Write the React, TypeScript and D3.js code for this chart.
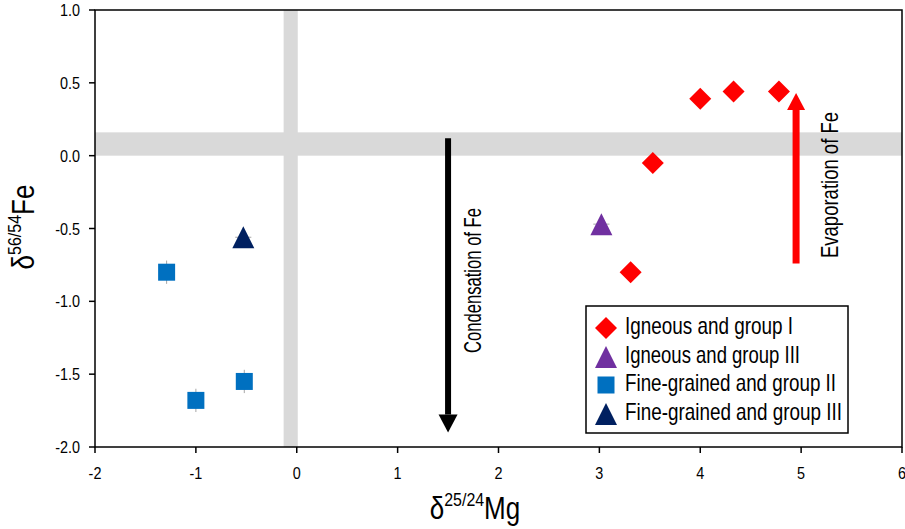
import React from "react";
import * as d3 from "d3";

const FONT = "'Liberation Sans', Arial, sans-serif";

// Data
const seriesNames = [
  "Igneous and group I",
  "Igneous and group III",
  "Fine-grained and group II",
  "Fine-grained and group III",
];
const seriesColors = ["#FF0000", "#7030A0", "#0070C0", "#002060"];
const seriesShapes = ["diamond", "triangle", "square", "triangle"];

const igneousI_mg = [4.0, 4.33, 4.78, 3.53, 3.31];
const igneousI_fe = [0.39, 0.44, 0.44, -0.05, -0.80];
const igneousIII_mg = [3.02];
const igneousIII_fe = [-0.47];
const fineII_mg = [-1.29, -1.0, -0.52];
const fineII_fe = [-0.80, -1.68, -1.55];
const fineIII_mg = [-0.53];
const fineIII_fe = [-0.56];
const errMg = [0.08, 0.08, 0.02, 0.08];
const errFe = [0.02, 0.02, 0.08, 0.02];

const xTicks = [-2, -1, 0, 1, 2, 3, 4, 5, 6];
const yTicks = [1.0, 0.5, 0.0, -0.5, -1.0, -1.5, -2.0];

const bandFe = [0.0, 0.16];
const bandMg = [-0.13, 0.01];
const condensationArrow = { mg: 1.5, from: 0.12, to: -1.9, label: "Condensation of Fe" };
const evaporationArrow = { mg: 4.95, from: -0.74, to: 0.43, label: "Evaporation of Fe" };

const W = 905, H = 529;
const x = d3.scaleLinear().domain([-2, 6]).range([95, 902]);
const y = d3.scaleLinear().domain([-2, 1]).range([447, 10]);

function marker(shape: string, cx: number, cy: number, color: string, key?: string) {
  if (shape === "diamond") {
    const r = 11;
    return <path key={key} d={`M${cx},${cy - r}L${cx + r},${cy}L${cx},${cy + r}L${cx - r},${cy}Z`} fill={color} />;
  }
  if (shape === "square") {
    const s = 8.5;
    return <rect key={key} x={cx - s} y={cy - s} width={2 * s} height={2 * s} fill={color} />;
  }
  const h = 22, w = 22;
  return <path key={key} d={`M${cx},${cy - h / 2}L${cx + w / 2},${cy + h / 2}L${cx - w / 2},${cy + h / 2}Z`} fill={color} />;
}

const series = [
  { mg: igneousI_mg, fe: igneousI_fe },
  { mg: igneousIII_mg, fe: igneousIII_fe },
  { mg: fineII_mg, fe: fineII_fe },
  { mg: fineIII_mg, fe: fineIII_fe },
];

function Arrow({ mg, from, to, color, shaft, headW, headH }: any) {
  const cx = x(mg);
  const y0 = y(from), y1 = y(to);
  const dir = y1 > y0 ? 1 : -1;
  const yBase = y1 - dir * headH;
  return (
    <g>
      <line x1={cx} x2={cx} y1={y0} y2={yBase} stroke={color} strokeWidth={shaft} />
      <path d={`M${cx - headW / 2},${yBase}L${cx + headW / 2},${yBase}L${cx},${y1}Z`} fill={color} />
    </g>
  );
}

const legendWidths = [168, 175, 211, 217];

export default function App() {
  const legendRows = [328, 357, 385, 414];
  return (
    <svg width={W} height={H} style={{ position: "absolute", left: 0, top: 0, fontFamily: FONT }}>
      <rect x={0} y={0} width={W} height={H} fill="#fff" />
      {/* bands */}
      <rect x={x(-2)} width={x(6) - x(-2)} y={y(bandFe[1])} height={y(bandFe[0]) - y(bandFe[1])} fill="#D9D9D9" />
      <rect x={x(bandMg[0])} width={x(bandMg[1]) - x(bandMg[0])} y={y(1)} height={y(-2) - y(1)} fill="#D9D9D9" />
      {/* frame */}
      <rect x={x(-2)} y={y(1)} width={x(6) - x(-2)} height={y(-2) - y(1)} fill="none" stroke="#000" strokeWidth={1.5} />
      {/* x ticks */}
      {xTicks.map((t) => (
        <g key={"x" + t}>
          <line x1={x(t)} x2={x(t)} y1={y(-2)} y2={y(-2) + 6} stroke="#000" strokeWidth={1.5} />
          <g transform={`translate(${x(t)},479) scale(0.9,1)`}>
            <text x={0} y={0} textAnchor="middle" fontSize={16} fill="#000">{t}</text>
          </g>
        </g>
      ))}
      {yTicks.map((t) => (
        <g key={"y" + t}>
          <line x1={x(-2) - 6} x2={x(-2)} y1={y(t)} y2={y(t)} stroke="#000" strokeWidth={1.5} />
          <g transform={`translate(80,${y(t) + 6}) scale(0.9,1)`}>
            <text x={0} y={0} textAnchor="end" fontSize={16} fill="#000">{t.toFixed(1)}</text>
          </g>
        </g>
      ))}
      {/* axis titles */}
      <g transform="translate(475,519) scale(0.84,1)">
        <text x={0} y={0} textAnchor="middle" fontSize={31} fill="#000">
          δ<tspan fontSize={19} dy={-13}>25/24</tspan><tspan dy={13}>Mg</tspan>
        </text>
      </g>
      <g transform="translate(34,227) rotate(-90) scale(0.84,1)">
        <text x={0} y={0} textAnchor="middle" fontSize={31} fill="#000">
          δ<tspan fontSize={19} dy={-13}>56/54</tspan><tspan dy={13}>Fe</tspan>
        </text>
      </g>
      {/* arrows */}
      <Arrow mg={condensationArrow.mg} from={condensationArrow.from} to={condensationArrow.to} color="#000" shaft={6} headW={19} headH={18} />
      <Arrow mg={evaporationArrow.mg} from={evaporationArrow.from} to={evaporationArrow.to} color="#FF0000" shaft={7} headW={18} headH={17} />
      <text transform={`translate(481,280.5) rotate(-90)`} textAnchor="middle" fontSize={24} fill="#000"
        textLength={145} lengthAdjust="spacingAndGlyphs">{condensationArrow.label}</text>
      <text transform={`translate(838,185) rotate(-90)`} textAnchor="middle" fontSize={24} fill="#000"
        textLength={146} lengthAdjust="spacingAndGlyphs">{evaporationArrow.label}</text>
      {/* error bars */}
      {series.map((s, si) =>
        s.mg.map((m, i) => (
          <g key={`e${si}-${i}`} stroke="#A6A6A6" strokeWidth={1}>
            <line x1={x(m - errMg[si])} x2={x(m + errMg[si])} y1={y(s.fe[i])} y2={y(s.fe[i])} />
            <line x1={x(m)} x2={x(m)} y1={y(s.fe[i] - errFe[si])} y2={y(s.fe[i] + errFe[si])} />
          </g>
        ))
      )}
      {/* points */}
      {series.map((s, si) =>
        s.mg.map((m, i) => marker(seriesShapes[si], x(m), y(s.fe[i]), seriesColors[si], `p${si}-${i}`))
      )}
      {/* legend */}
      <rect x={586} y={306} width={262} height={127} fill="#fff" stroke="#000" strokeWidth={1.5} />
      {seriesNames.map((n, i) => (
        <g key={n}>
          {marker(seriesShapes[i], 606, legendRows[i], seriesColors[i])}
          <text x={625} y={legendRows[i] + 6} fontSize={24} fill="#000"
            textLength={legendWidths[i]} lengthAdjust="spacingAndGlyphs">{n}</text>
        </g>
      ))}
    </svg>
  );
}
